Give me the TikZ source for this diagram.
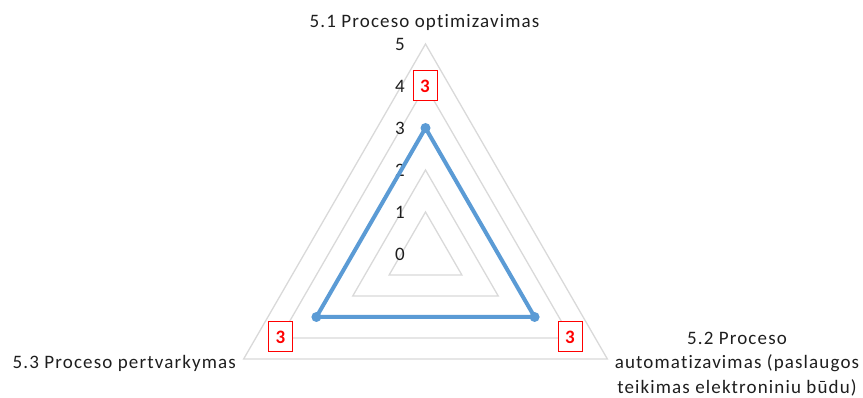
\documentclass[tikz,border=0pt]{standalone}
\usepackage{fontspec}
\setmainfont{Carlito}[LetterSpace=6,Ligatures=NoCommon]
\definecolor{gridc}{HTML}{D9D9D9}
\definecolor{seriesc}{HTML}{5B9BD5}
\definecolor{txtc}{HTML}{1E1E1E}
\definecolor{lblc}{HTML}{FF0000}
\begin{document}
\begin{tikzpicture}[x=1pt,y=-1pt,
  font=\fontsize{19}{24.5}\selectfont, text=txtc,
  gridline/.style={draw=gridc,line width=1.3pt},
  seriesline/.style={draw=seriesc,line width=4pt,line join=round},
  marker/.style={circle,fill=seriesc,inner sep=0pt,minimum size=10pt},
  ticklbl/.style={anchor=east,inner sep=0pt},
  datalbl/.style={draw=lblc,fill=white,text=lblc,font=\fontsize{19}{24.5}\selectfont\bfseries,line width=1pt,minimum width=24pt,minimum height=30pt,inner sep=0pt},
  catlbl/.style={inner sep=0pt,anchor=base}]
\useasboundingbox (0,0) rectangle (863,398);
\coordinate (C) at (425.5,254);
% grid
\foreach \L in {1,...,5}{
  \draw[gridline] (425.5,{254-42*\L}) -- ({425.5+36.373*\L},{254+21*\L}) -- ({425.5-36.373*\L},{254+21*\L}) -- cycle;
}
% axis tick labels
\foreach \v in {0,...,5}{
  \node[ticklbl] (t\v) at (405,{254-42*\v}) {\v};
}
% series
\coordinate (p1) at (425.5,128);
\coordinate (p2) at (534.6,317);
\coordinate (p3) at (316.4,317);
\draw[seriesline] (p1) -- (p2) -- (p3) -- cycle;
\node[marker] (m1) at (p1) {};
\node[marker] (m2) at (p2) {};
\node[marker] (m3) at (p3) {};
% data labels
\node[datalbl] (d1) at (425,86) {3};
\node[datalbl] (d2) at (570,337) {3};
\node[datalbl] (d3) at (280.5,337) {3};
% category labels
\node[catlbl] (c1) at (424.5,27.5) {5.1 Proceso optimizavimas};
\node[catlbl,align=center] (c2) at (737,393) {5.2 Proceso\\automatizavimas (paslaugos\\teikimas elektroniniu būdu)};
\node[inner sep=0pt,anchor=base east] (c3) at (236,369) {5.3 Proceso pertvarkymas};
\end{tikzpicture}
\end{document}
